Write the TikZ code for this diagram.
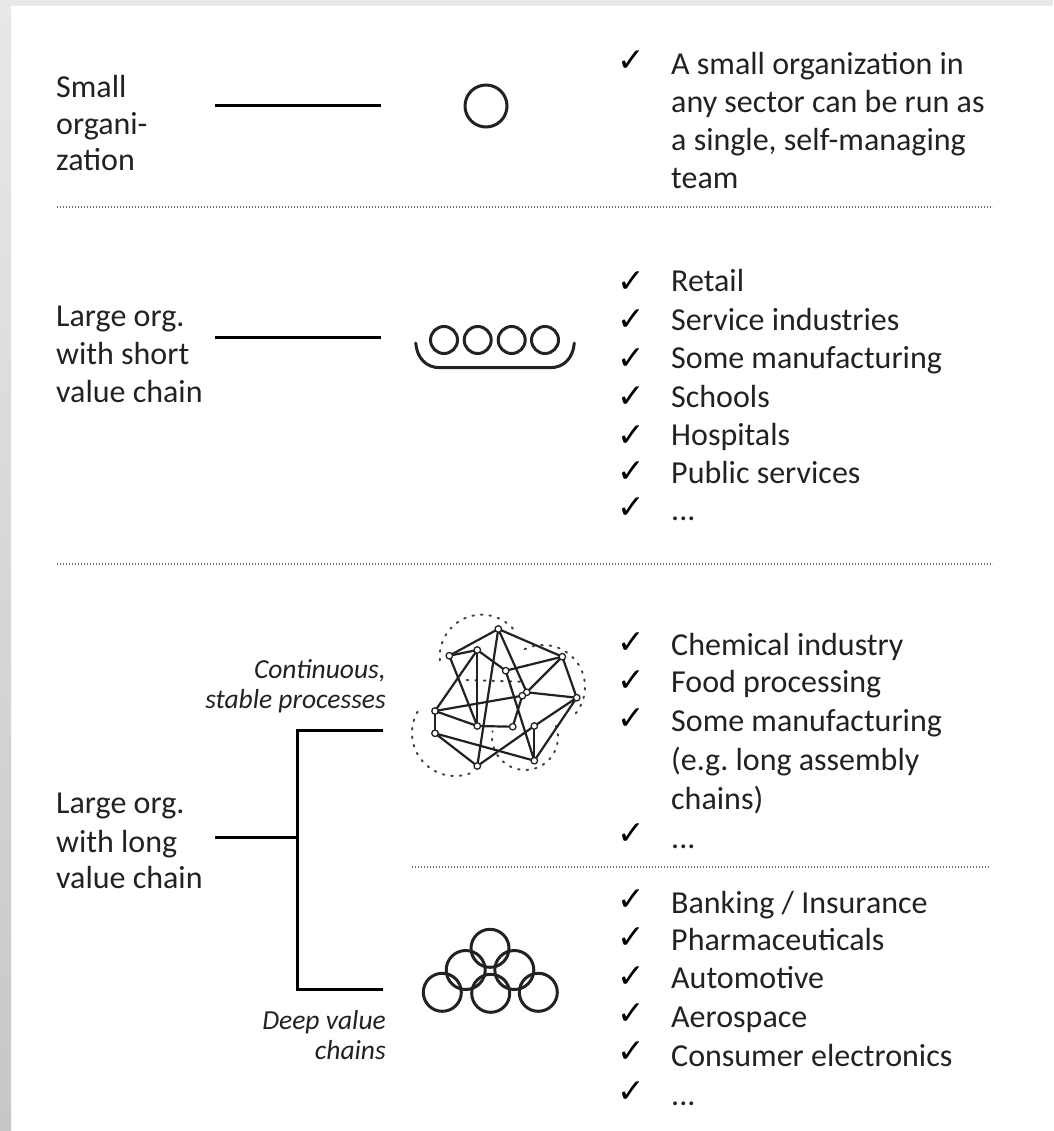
\documentclass[tikz,border=0pt]{standalone}
\usepackage{fontspec}
\setmainfont{Carlito}
\newfontfamily\chkfont{DejaVu Sans}
\usetikzlibrary{shadings}
\definecolor{ink}{HTML}{222222}
\frenchspacing
\tikzset{
  x=1pt,y=-1pt,
  lbl/.style={anchor=base west,align=left,inner sep=0pt,text=ink,font=\frenchspacing\fontsize{32}{39}\selectfont},
  note/.style={anchor=base east,align=right,inner sep=0pt,text=ink,font=\fontsize{27.5}{30}\selectfont\itshape},
  chk/.style={anchor=center,inner sep=0pt,text=black,font=\chkfont\bfseries\fontsize{33}{36}\selectfont},
  conn/.style={draw=black,line width=3pt},
  rule/.style={draw=ink!65,line width=1.3pt,dash pattern=on 1.3pt off 1.7pt},
  ring/.style={draw=ink,line width=3pt},
  net/.style={draw=ink,line width=2.2pt},
  netdot/.style={circle,draw=ink,fill=white,line width=1.3pt,inner sep=0pt,minimum size=6.5pt},
  halo/.style={draw=ink!85,line width=2pt,dash pattern=on 1.6pt off 7pt,line cap=round},
}
\begin{document}
\begin{tikzpicture}
\useasboundingbox (0,0) rectangle (1053,1131);
% page and surroundings
\fill[white] (0,0) rectangle (1053,1131);
\fill[top color=gray!18!white,bottom color=black!22] (0,0) rectangle (11,1131);
\fill[black!9] (0,0) rectangle (1053,6);
% left labels
\node[lbl] (small) at (56,171) {Small\\[-2pt]organi-\\[-3pt]zation};
\node[lbl] (short) at (56,402) {Large org.\\[-1pt]with short\\[-1pt]value chain};
\node[lbl] (long) at (56,888) {Large org.\\with long\\[-3pt]value chain};
\node[note] (cont) at (386,708) {Continuous,\\stable processes};
\node[note] (deep) at (386,1059) {Deep value\\chains};
% connectors
\coordinate (s1) at (215,106); \coordinate (e1) at (381,106);
\coordinate (s2) at (215,337); \coordinate (e2) at (381,337);
\coordinate (s3) at (215,837); \coordinate (j3) at (297,837);
\coordinate (t3) at (297,730); \coordinate (e3) at (381,730);
\coordinate (b3) at (297,989); \coordinate (e4) at (381,989);
\draw[conn] (s1) -- (e1);
\draw[conn] (s2) -- (e2);
\draw[conn] (s3) -- (j3);
\draw[conn,line cap=rect] (e3) -- (t3) -- (b3) -- (e4);
% dotted rules
\coordinate (r1a) at (57,207); \coordinate (r1b) at (993,207);
\coordinate (r2a) at (57,564); \coordinate (r2b) at (993,564);
\coordinate (r3a) at (412,867); \coordinate (r3b) at (990,867);
\draw[rule] (r1a) -- (r1b);
\draw[rule] (r2a) -- (r2b);
\draw[rule] (r3a) -- (r3b);
% single circle
\node[circle,ring,minimum size=42pt,inner sep=0pt] (single) at (486,106) {};
% tray with four circles
\foreach \n/\x in {a/444,b/477.7,c/511.7,d/545}
  \node[circle,ring,minimum size=27pt,inner sep=0pt] (tray\n) at (\x,340) {};
\draw[ring,line cap=round] (415.7,343) .. controls (417,358) and (426,367.7) .. (440,367.7)
  -- (550,367.7) .. controls (564,367.7) and (573,358) .. (574.3,343);
% network: dotted halos (outer parts, screen angles: y grows downward)
\foreach \cx/\cy/\r/\a/\b in {481.7/656.7/42/175/320, 543/687/42/244/405, 455/733/43/70/212, 525/737/33/-20/190}
  \draw[halo,domain=\a:\b,samples=40,variable=\t] plot ({\cx+\r*cos(\t)},{\cy+\r*sin(\t)});
\coordinate (ha) at (466.7,680); \coordinate (hb) at (520,681.7);
\draw[halo] (ha) -- (hb);
% network: nodes
\foreach \n/\x/\y in {A/498.3/629,B/477.3/650,C/449.3/655.7,D/562.3/656.7,E/505.7/670.7,
  F/526.7/692.3,P/522.3/695.7,G/576.7/697.7,H/435/711,I/477.3/726,J/512.7/726.7,
  K/534.3/726,L/435/733.3,M/534.3/760.7,N/477.3/766}
  \coordinate (n\n) at (\x,\y);
\foreach \a/\b in {A/C,A/D,C/B,B/H,B/I,B/E,C/I,A/N,E/D,E/M,F/D,F/G,D/G,H/P,H/I,H/L,
  L/N,L/M,I/J,J/P,K/N,K/M,K/G,G/M,A/F,F/P}
  \draw[net] (n\a) -- (n\b);
\foreach \n in {A,B,C,D,E,F,P,G,H,I,J,K,L,M,N}
  \node[netdot] (d\n) at (n\n) {};
% overlapping rings
\foreach \n/\x/\y/\r in {t/490/948.3/38,l/465.7/970/39,r/514.3/970/39,
  p/442.3/992.3/38,q/490.7/993.3/38,s/538.3/992.3/38}
  \node[circle,ring,minimum size=\r pt,inner sep=0pt] (rg\n) at (\x,\y) {};
% lists
\node[lbl] (l1) at (671,188.5) {A small organization in\\[-1pt]any sector can be run as\\[-1pt]a single, self-managing\\[-1pt]team};
\node[lbl] (l2) at (671,520) {Retail\\Service industries\\[-1pt]Some manufacturing\\Schools\\[-1pt]Hospitals\\[-1pt]Public services\\[-2pt]...};
\node[lbl] (l3) at (671,848) {Chemical industry\\[-2pt]Food processing\\Some manufacturing\\(e.g. long assembly\\chains)\\...};
\node[lbl] (l4) at (671,1105) {Banking / Insurance\\[-2pt]Pharmaceuticals\\[-1pt]Automotive\\Aerospace\\Consumer electronics\\...};
\foreach \i/\y in {a/61,b/282,c/320,d/359,e/397,f/436,g/472,h/508,i/643,j/681,k/719,l/834,m/900,n/938,o/977,p/1014,q/1052,r/1092}
  \node[chk] (chk\i) at (631,\y) {✓};
\end{tikzpicture}
\end{document}
